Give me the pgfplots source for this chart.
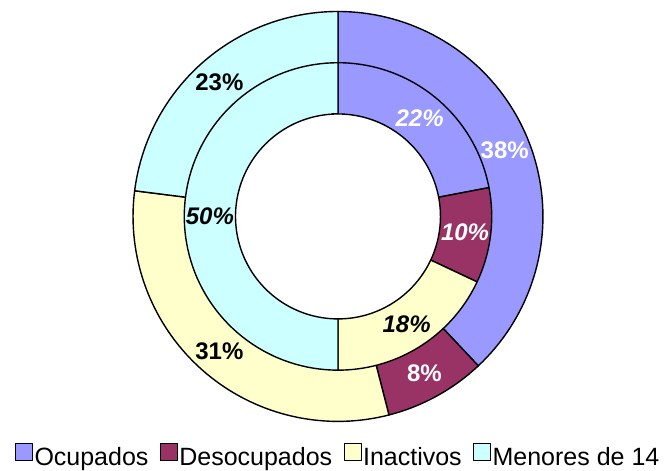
\documentclass[border=0pt]{standalone}
\usepackage{pgfplots}
\pgfplotsset{compat=1.18}
\usepackage{fontspec}
\setmainfont{Liberation Sans}
\definecolor{cOcu}{HTML}{9999FF}
\definecolor{cDes}{HTML}{993366}
\definecolor{cIna}{HTML}{FFFFCC}
\definecolor{cMen}{HTML}{CCFFFF}

% wedge: #1 radius, #2 start (%), #3 value (%), #4 fill colour, #5 extra options
\newcommand{\pieseg}[5]{%
  \addplot[draw=black, line width=1.4pt, line join=round, fill=#4, domain=#2:#2+#3, samples=80, #5]
    ({#1*sin(3.6*x)}, {#1*cos(3.6*x)}) -- (axis cs:0,0) -- cycle;
}
% label: #1 radius, #2 start, #3 value, #4 colour, #5 font, #6 text
\newcommand{\wlabel}[6]{%
  \node[text=#4, font=#5, inner sep=0pt] at (axis cs:{#1*sin(3.6*(#2+#3/2))},{#1*cos(3.6*(#2+#3/2))}) {#6};
}

\begin{document}
\begin{tikzpicture}
\begin{axis}[
  x=205pt, y=205pt,
  hide axis, clip=false,
  xmin=-1.649, xmax=1.615, ymin=-1.222, ymax=1.056,
  legend columns=4,
  legend cell align=left,
  legend image code/.code={\draw[#1, draw=black, line width=0.9pt] (0pt,-4pt) rectangle (17pt,13pt);},
  legend style={at={(axis cs:0,-1.168)}, anchor=center, draw=none, fill=none,
    font=\fontsize{25}{28}\selectfont,
    nodes={inner sep=1.5pt},
    /tikz/every even column/.append style={column sep=10pt}},
]
\addplot[draw=none, forget plot] coordinates {(-1.649,-1.222) (1.615,1.056)};
% outer ring (second series)
\pieseg{1}{0}{38}{cOcu}{}
\addlegendentry{Ocupados}
\pieseg{1}{38}{8}{cDes}{}
\addlegendentry{Desocupados}
\pieseg{1}{46}{31}{cIna}{}
\addlegendentry{Inactivos}
\pieseg{1}{77}{23}{cMen}{}
\addlegendentry{Menores de 14}
% inner ring (first series)
\pieseg{0.75}{0}{22}{cOcu}{forget plot}
\pieseg{0.75}{22}{10}{cDes}{forget plot}
\pieseg{0.75}{32}{18}{cIna}{forget plot}
\pieseg{0.75}{50}{50}{cMen}{forget plot}
% hole
\addplot[draw=black, line width=1.4pt, fill=white, domain=0:100, samples=160, forget plot]
  ({0.5*sin(3.6*x)}, {0.5*cos(3.6*x)}) -- cycle;
% labels outer
\wlabel{0.875}{0}{38}{white}{\fontsize{24}{28}\selectfont\bfseries}{38\%}
\wlabel{0.875}{38}{8}{white}{\fontsize{24}{28}\selectfont\bfseries}{8\%}
\wlabel{0.875}{46}{31}{black}{\fontsize{24}{28}\selectfont\bfseries}{31\%}
\wlabel{0.875}{77}{23}{black}{\fontsize{24}{28}\selectfont\bfseries}{23\%}
% labels inner
\wlabel{0.625}{0}{22}{white}{\fontsize{24}{28}\selectfont\bfseries\itshape}{22\%}
\wlabel{0.625}{22}{10}{white}{\fontsize{24}{28}\selectfont\bfseries\itshape}{10\%}
\wlabel{0.625}{32}{18}{black}{\fontsize{24}{28}\selectfont\bfseries\itshape}{18\%}
\wlabel{0.625}{50}{50}{black}{\fontsize{24}{28}\selectfont\bfseries\itshape}{50\%}
\end{axis}
\end{tikzpicture}
\end{document}
